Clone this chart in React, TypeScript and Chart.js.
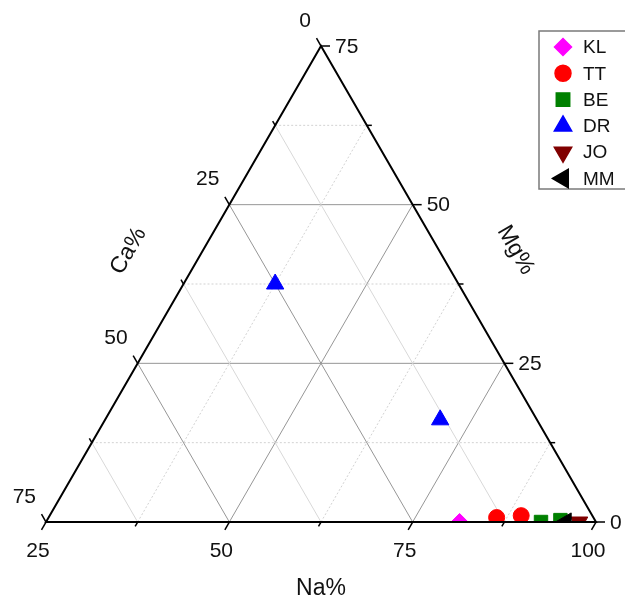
import React, { useEffect, useRef } from 'react';
import { Chart, registerables } from 'chart.js';
import { drawPoint } from 'chart.js/helpers';

Chart.register(...registerables);

// Sample groups and their cation shares (%)
const categories = ['KL', 'TT', 'BE', 'DR', 'JO', 'MM'];
const naValues = [[81.4], [86.1, 89.3], [92.5, 95.0], [37.5, 70.7], [97.7], [95.9]];
const mgValues = [[0], [0.7, 1.0], [0, 0.3], [37.5, 16.1], [0], [0]];
const caValues = [[18.6], [13.2, 9.7], [7.5, 4.7], [25.0, 13.2], [2.3], [4.1]];

const colors = ['#ff00ff', '#ff0000', '#008000', '#0000ff', '#800000', '#000000'];
const pointStyles = ['rectRot', 'circle', 'rect', 'triangle', 'triangle', 'triangle'];
const rotations = [0, 0, 0, 0, 180, 270];
const radii = [8.5, 8, 9.5, 10, 10, 10.5];

// Axis ranges of the zoomed ternary (Na from 25 to 100)
const naTickLabels = [25, 50, 75, 100];
const mgTickLabels = [0, 25, 50, 75];
const caTickLabels = [0, 25, 50, 75];
const NA_MIN = 25;
const SPAN = 75;
const STEP = 12.5;

const SQ3_2 = Math.sqrt(3) / 2;
const FONT = '"Liberation Sans", Arial, Helvetica, sans-serif';

function toXY(na: number, mg: number, ca: number) {
  const total = na + mg + ca - NA_MIN;
  const a = (na - NA_MIN) / total;
  const m = mg / total;
  return { x: a + m / 2, y: m * SQ3_2 };
}

// Pixel of a composition given by Na and Mg (Ca is the remainder)
function pix(chart: any, na: number, mg: number): [number, number] {
  const p = toXY(na, mg, 100 - na - mg);
  return [chart.scales.x.getPixelForValue(p.x), chart.scales.y.getPixelForValue(p.y)];
}

function line(ctx: CanvasRenderingContext2D, p: [number, number], q: [number, number]) {
  ctx.beginPath();
  ctx.moveTo(p[0], p[1]);
  ctx.lineTo(q[0], q[1]);
  ctx.stroke();
}

const isMajor = (v: number) => Math.abs(v / 25 - Math.round(v / 25)) < 1e-6;

const ternaryFrame = {
  id: 'ternaryFrame',
  beforeDatasetsDraw(chart: any) {
    const ctx: CanvasRenderingContext2D = chart.ctx;
    ctx.save();
    ctx.lineWidth = 1;
    const steps: number[] = [];
    for (let v = STEP; v < SPAN - 1e-6; v += STEP) steps.push(v);

    // constant Mg (horizontal)
    steps.forEach((mg) => {
      const major = isMajor(mg);
      ctx.strokeStyle = major ? '#969696' : '#d2d2d2';
      ctx.setLineDash(major ? [] : [2, 2]);
      line(ctx, pix(chart, NA_MIN, mg), pix(chart, 100 - mg, mg));
    });
    // constant Na (parallel to the left edge)
    steps.forEach((s) => {
      const na = NA_MIN + s;
      const major = isMajor(na);
      ctx.strokeStyle = major ? '#969696' : '#d2d2d2';
      ctx.setLineDash(major ? [] : [2, 2]);
      line(ctx, pix(chart, na, 0), pix(chart, na, 100 - na));
    });
    // constant Ca (parallel to the right edge)
    steps.forEach((ca) => {
      const major = isMajor(ca);
      ctx.strokeStyle = major ? '#969696' : '#d8d8d8';
      ctx.setLineDash([]);
      line(ctx, pix(chart, NA_MIN, SPAN - ca), pix(chart, 100 - ca, 0));
    });
    ctx.restore();
  },
  afterDatasetsDraw(chart: any) {
    const ctx: CanvasRenderingContext2D = chart.ctx;
    ctx.save();
    ctx.setLineDash([]);

    // triangle frame
    const A = pix(chart, NA_MIN, 0);
    const B = pix(chart, 100, 0);
    const C = pix(chart, NA_MIN, SPAN);
    ctx.strokeStyle = '#000';
    ctx.lineWidth = 2;
    ctx.lineJoin = 'miter';
    ctx.beginPath();
    ctx.moveTo(A[0], A[1]);
    ctx.lineTo(B[0], B[1]);
    ctx.lineTo(C[0], C[1]);
    ctx.closePath();
    ctx.stroke();

    // ticks
    ctx.lineWidth = 1.5;
    const tickDirs = {
      na: [-0.5, SQ3_2],
      mg: [1, 0],
      ca: [-0.5, -SQ3_2],
    };
    for (let v = 0; v <= SPAN + 1e-6; v += STEP) {
      const len = isMajor(v) ? 9 : 5;
      const pNa = pix(chart, NA_MIN + v, 0);
      line(ctx, pNa, [pNa[0] + tickDirs.na[0] * len, pNa[1] + tickDirs.na[1] * len]);
      const pMg = pix(chart, 100 - v, v);
      line(ctx, pMg, [pMg[0] + tickDirs.mg[0] * len, pMg[1] + tickDirs.mg[1] * len]);
      const pCa = pix(chart, NA_MIN, SPAN - v);
      line(ctx, pCa, [pCa[0] + tickDirs.ca[0] * len, pCa[1] + tickDirs.ca[1] * len]);
    }

    // tick labels
    ctx.fillStyle = '#111';
    ctx.font = `21px ${FONT}`;
    ctx.textBaseline = 'middle';
    ctx.textAlign = 'center';
    naTickLabels.forEach((na) => {
      const p = pix(chart, na, 0);
      ctx.fillText(String(na), p[0] - 8, p[1] + 29);
    });
    ctx.textAlign = 'left';
    mgTickLabels.forEach((mg) => {
      const p = pix(chart, 100 - mg, mg);
      ctx.fillText(String(mg), p[0] + 14, p[1] + 1);
    });
    ctx.textAlign = 'right';
    caTickLabels.forEach((ca) => {
      const p = pix(chart, NA_MIN, SPAN - ca);
      ctx.fillText(String(ca), p[0] - 10, p[1] - 25);
    });

    // axis titles
    ctx.font = `23px ${FONT}`;
    ctx.textAlign = 'center';
    const mid = (p: [number, number], q: [number, number]) => [(p[0] + q[0]) / 2, (p[1] + q[1]) / 2];
    const bm = mid(A, B);
    ctx.fillText('Na%', bm[0], bm[1] + 67);
    const lm = mid(A, C);
    ctx.save();
    ctx.translate(lm[0] - 55, lm[1] - 33);
    ctx.rotate(-Math.PI / 3);
    ctx.fillText('Ca%', 0, 0);
    ctx.restore();
    const rm = mid(B, C);
    ctx.save();
    ctx.translate(rm[0] + 57, rm[1] - 34);
    ctx.rotate(Math.PI / 3);
    ctx.fillText('Mg%', 0, 0);
    ctx.restore();

    // legend
    const lx = 539;
    const ly = 31;
    ctx.fillStyle = '#ffffff';
    ctx.fillRect(lx, ly, 100, 158);
    ctx.strokeStyle = '#7a7a7a';
    ctx.lineWidth = 1.5;
    ctx.strokeRect(lx, ly, 100, 158);
    ctx.font = `19px ${FONT}`;
    ctx.textAlign = 'left';
    categories.forEach((name, i) => {
      const y = 47 + i * 26.3;
      ctx.fillStyle = colors[i];
      ctx.strokeStyle = colors[i];
      drawPoint(ctx, {
        pointStyle: pointStyles[i],
        rotation: rotations[i],
        radius: radii[i],
        borderWidth: 1,
      } as any, 563, y);
      ctx.fillStyle = '#111';
      ctx.fillText(name, 583, y + 1);
    });
    ctx.restore();
  },
};

export default function App() {
  const canvasRef = useRef<HTMLCanvasElement>(null);

  useEffect(() => {
    const canvas = canvasRef.current;
    if (!canvas) return;
    const datasets = categories.map((name, i) => ({
      label: name,
      data: naValues[i].map((na, j) => toXY(na, mgValues[i][j], caValues[i][j])),
      backgroundColor: colors[i],
      borderColor: colors[i],
      borderWidth: 1,
      pointStyle: pointStyles[i],
      rotation: rotations[i],
      pointRadius: radii[i],
      pointHoverRadius: radii[i],
      order: categories.length - i,
      clip: { left: false, top: false, right: false, bottom: 0 },
    }));
    const chart = new Chart(canvas, {
      type: 'scatter',
      data: { datasets: datasets as any },
      options: {
        responsive: false,
        animation: false,
        layout: { padding: { left: 46, right: 29, top: 46, bottom: 85 } },
        scales: {
          x: { type: 'linear', min: 0, max: 1, display: false },
          y: { type: 'linear', min: 0, max: SQ3_2, display: false },
        },
        plugins: {
          legend: { display: false },
          tooltip: { enabled: false },
        },
      },
      plugins: [ternaryFrame],
    });
    return () => chart.destroy();
  }, []);

  return (
    <canvas
      ref={canvasRef}
      width={625}
      height={607}
      style={{ position: 'absolute', left: 0, top: 0, width: '625px', height: '607px', display: 'block', background: '#fff' }}
    />
  );
}
